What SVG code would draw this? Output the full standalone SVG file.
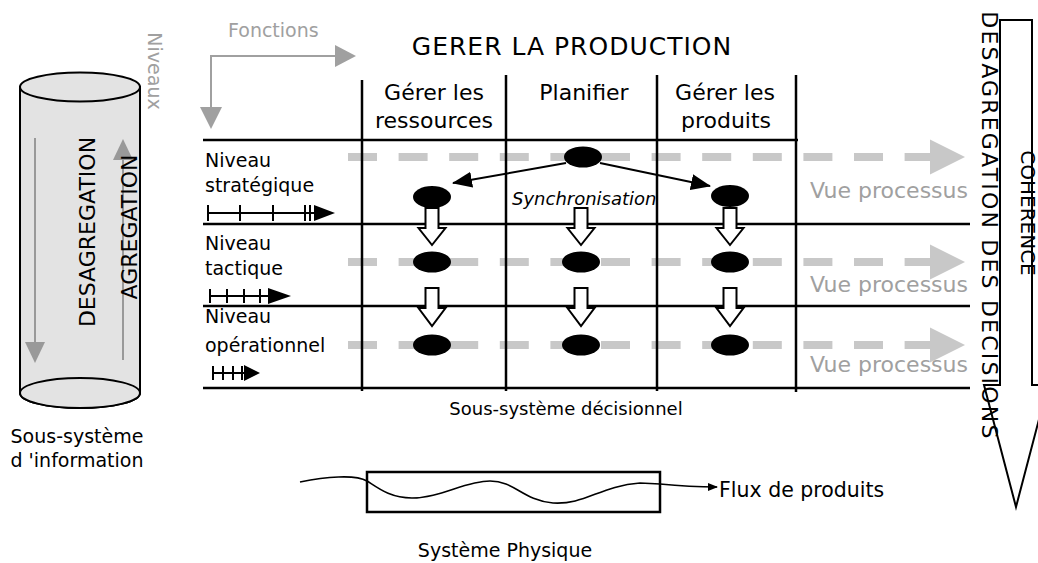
<svg xmlns="http://www.w3.org/2000/svg" width="1038" height="563" viewBox="0 0 1038 563">
<style>
text{font-family:"DejaVu Sans","Liberation Sans",sans-serif;fill:#000}
.g{fill:#a0a0a0}
.hdr{font-size:22px;text-anchor:middle}
.row{font-size:19px}
.vue{font-size:22px;fill:#a0a0a0}
.grid{stroke:#000;stroke-width:2.5;fill:none}
.dash{stroke:#c8c8c8;stroke-width:8;stroke-dasharray:29 21.6;fill:none}
.dhead{fill:#c8c8c8}
.node{fill:#000}
.hollow{fill:#fff;stroke:#000;stroke-width:2}
.tl{stroke:#000;stroke-width:2;fill:none}
.garrow{stroke:#999;stroke-width:2;fill:none}
</style>
<defs>
<marker id="ah" markerWidth="10" markerHeight="8" refX="9" refY="4" orient="auto" markerUnits="userSpaceOnUse">
<path d="M0,0 L10,4 L0,8 Z" fill="#000"/>
</marker>
<marker id="sync" markerWidth="20" markerHeight="16" refX="19" refY="8" orient="auto" markerUnits="userSpaceOnUse">
<path d="M0,0 L20,8 L0,16 Z" fill="#000"/>
</marker>
</defs>

<!-- Cylinder: information subsystem -->
<g id="info-subsystem">
<path d="M20,87 V393 A60,15 0 0 0 140,393 V87 Z" fill="#e3e3e3" stroke="#000" stroke-width="2"/>
<ellipse cx="80" cy="87" rx="60" ry="14.5" fill="#e3e3e3" stroke="#000" stroke-width="2"/>
<ellipse cx="80" cy="393" rx="60" ry="15" fill="#e3e3e3" stroke="#000" stroke-width="2"/>
<line class="garrow" x1="35" y1="138" x2="35" y2="344"/>
<polygon points="25,342 45,342 35,363" fill="#999"/>
<line class="garrow" x1="123" y1="360" x2="123" y2="158"/>
<polygon points="113,160 133,160 123,139" fill="#999"/>
<text transform="translate(95,232) rotate(-90)" font-size="22" text-anchor="middle">DESAGREGATION</text>
<text transform="translate(137,227) rotate(-90)" font-size="22" text-anchor="middle">AGREGATION</text>
<text x="77" y="443" font-size="19" text-anchor="middle">Sous-système</text>
<text x="77" y="467" font-size="19" text-anchor="middle">d 'information</text>
</g>

<!-- Axes -->
<g id="axes">
<text x="228" y="37" font-size="19" class="g">Fonctions</text>
<text transform="translate(148,71) rotate(90)" font-size="19" class="g" text-anchor="middle">Niveaux</text>
<polyline points="337,56 211,56 211,110" fill="none" stroke="#a0a0a0" stroke-width="2"/>
<polygon points="335,45 356,56 335,67" fill="#a0a0a0"/>
<polygon points="200,107 222,107 211,129" fill="#a0a0a0"/>
</g>

<!-- Title and headers -->
<g id="headers">
<text x="572" y="55" font-size="25" text-anchor="middle" letter-spacing="1">GERER LA PRODUCTION</text>
<text x="434" y="100" class="hdr">Gérer les</text>
<text x="434" y="128" class="hdr">ressources</text>
<text x="584" y="100" class="hdr">Planifier</text>
<text x="725" y="100" class="hdr">Gérer les</text>
<text x="726" y="128" class="hdr">produits</text>
</g>

<!-- Process view dashed arrows -->
<g id="process-views">
<line class="dash" x1="348" y1="157" x2="931" y2="157"/>
<polygon class="dhead" points="930,139.5 965,157 930,174.5"/>
<line class="dash" x1="348" y1="262" x2="931" y2="262"/>
<polygon class="dhead" points="930,244.5 965,262 930,279.5"/>
<line class="dash" x1="348" y1="345" x2="931" y2="345"/>
<polygon class="dhead" points="930,327.5 965,345 930,362.5"/>
<text x="810" y="198" class="vue">Vue processus</text>
<text x="810" y="292" class="vue">Vue processus</text>
<text x="810" y="372" class="vue">Vue processus</text>
</g>

<!-- Grid -->
<g id="grid">
<line class="grid" x1="203" y1="140" x2="798" y2="140"/>
<line class="grid" x1="203" y1="224" x2="970" y2="224"/>
<line class="grid" x1="203" y1="306" x2="970" y2="306"/>
<line class="grid" x1="203" y1="388" x2="970" y2="388"/>
<line class="grid" x1="362" y1="80" x2="362" y2="391"/>
<line class="grid" x1="506" y1="75" x2="506" y2="391"/>
<line class="grid" x1="657" y1="75" x2="657" y2="391"/>
<line class="grid" x1="796" y1="75" x2="796" y2="392"/>
<text x="566" y="415" font-size="18" text-anchor="middle">Sous-système décisionnel</text>
</g>

<!-- Row labels and timelines -->
<g id="level-strategic">
<text x="205" y="167" class="row">Niveau</text>
<text x="205" y="192" class="row">stratégique</text>
<path class="tl" d="M208,213 H318 M208,205 V221 M240,205 V221 M273,205 V221 M305,205 V221 M310,205 V221"/>
<polygon points="314,205 335,213 314,221"/>
</g>
<g id="level-tactical">
<text x="205" y="250" class="row">Niveau</text>
<text x="205" y="275" class="row">tactique</text>
<path class="tl" d="M210,296 H272 M210,289 V303 M227,289 V303 M244,289 V303 M260,289 V303"/>
<polygon points="268,288 291,296 268,304"/>
</g>
<g id="level-operational">
<text x="205" y="323" class="row">Niveau</text>
<text x="205" y="352" class="row">opérationnel</text>
<path class="tl" d="M213,373 H247 M213,366 V380 M223,366 V380 M233,366 V380 M242,366 V380"/>
<polygon points="244,365 260,373 244,381"/>
</g>

<!-- Synchronisation connectors -->
<g id="connectors">
<line x1="566" y1="163" x2="453" y2="183" stroke="#000" stroke-width="2" marker-end="url(#sync)"/>
<line x1="600" y1="163" x2="710" y2="186" stroke="#000" stroke-width="2" marker-end="url(#sync)"/>
<text x="512" y="205" font-size="18" font-style="italic">Synchronisation</text>
<path class="hollow" d="M425.5,208 H438.5 V228 H445.5 L432,245 L418.5,228 H425.5 Z"/>
<path class="hollow" d="M574.5,208 H587.5 V228 H594.5 L581,245 L567.5,228 H574.5 Z"/>
<path class="hollow" d="M723.5,208 H736.5 V228 H743.5 L730,245 L716.5,228 H723.5 Z"/>
<path class="hollow" d="M425.5,288 H438.5 V308 H445.5 L432,326 L418.5,308 H425.5 Z"/>
<path class="hollow" d="M574.5,288 H587.5 V308 H594.5 L581,326 L567.5,308 H574.5 Z"/>
<path class="hollow" d="M723.5,288 H736.5 V308 H743.5 L730,326 L716.5,308 H723.5 Z"/>
</g>

<!-- Decision nodes -->
<g id="node-plan-strat"><ellipse class="node" cx="583" cy="157" rx="19" ry="10.5"/></g>
<g id="node-res-strat"><ellipse class="node" cx="432" cy="197" rx="19" ry="11"/></g>
<g id="node-prod-strat"><ellipse class="node" cx="730" cy="196" rx="19" ry="11"/></g>
<g id="node-res-tact"><ellipse class="node" cx="432" cy="262" rx="19" ry="10.5"/></g>
<g id="node-plan-tact"><ellipse class="node" cx="581" cy="262" rx="19" ry="10.5"/></g>
<g id="node-prod-tact"><ellipse class="node" cx="730" cy="262" rx="19" ry="10.5"/></g>
<g id="node-res-op"><ellipse class="node" cx="432" cy="345" rx="19" ry="10.5"/></g>
<g id="node-plan-op"><ellipse class="node" cx="581" cy="345" rx="19" ry="10.5"/></g>
<g id="node-prod-op"><ellipse class="node" cx="730" cy="345" rx="19" ry="10.5"/></g>

<!-- Decision disaggregation block arrow -->
<g id="coherence-arrow">
<path d="M1000,20 H1032 V385 H1048 L1016,507 L984,385 H1000 Z" fill="none" stroke="#000" stroke-width="2"/>
<text transform="translate(982,226) rotate(90)" font-size="22" text-anchor="middle" letter-spacing="2.2">DESAGREGATION DES DECISIONS</text>
<text transform="translate(1021,213) rotate(90)" font-size="20" text-anchor="middle">COHERENCE</text>
</g>

<!-- Physical system -->
<g id="physical-system">
<rect x="367" y="472" width="293" height="40" fill="none" stroke="#000" stroke-width="2.5"/>
<path d="M300,482 C325,477 355,474 367,481 C378,488 390,498 412,498 C440,498 465,481 490,481 C515,481 522,500 553,503 C585,505 600,486 640,483 L660,484 C680,486 695,487 717,487" fill="none" stroke="#000" stroke-width="1.6" marker-end="url(#ah)"/>
<text x="719" y="497" font-size="20.5">Flux de produits</text>
<text x="505" y="557" font-size="19" text-anchor="middle">Système Physique</text>
</g>
</svg>
